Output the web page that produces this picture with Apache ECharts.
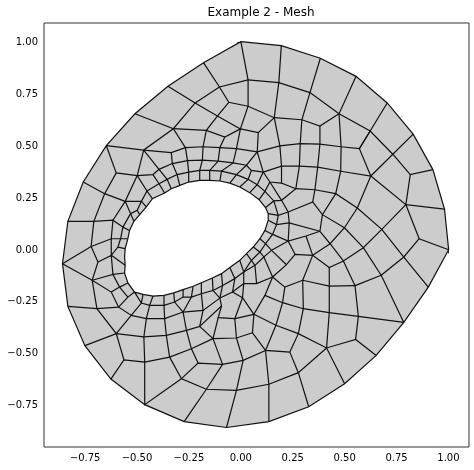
<!DOCTYPE html>
<html>
<head>
<meta charset="utf-8">
<title>Example 2 - Mesh</title>
<script src="https://cdn.jsdelivr.net/npm/echarts@6/dist/echarts.min.js"></script>
<style>
  html, body { margin: 0; padding: 0; background: #fff; }
  #main { width: 474px; height: 470px; }
</style>
</head>
<body>
<div id="main"></div>
<script>
var xTicks = [-0.75, -0.5, -0.25, 0, 0.25, 0.5, 0.75, 1];
var yTicks = [-0.75, -0.5, -0.25, 0, 0.25, 0.5, 0.75, 1];

var outerBoundary = [[0,1.003],[.195,.984],[.383,.923],[.555,.836],[.705,.708],[.830,.558],[.925,.387],[.981,.197],[1.001,.001],[.903,-.179],[.785,-.349],[.652,-.508],[.500,-.644],[.327,-.755],[.135,-.827],[-.069,-.855],[-.273,-.827],[-.463,-.745],[-.626,-.622],[-.751,-.461],[-.833,-.272],[-.859,-.066],[-.833,.138],[-.759,.327],[-.648,.502],[-.510,.656],[-.351,.788],[-.180,.902]];

var holeBoundary = [[-.251,.327],[-.198,.335],[-.150,.335],[-.101,.332],[-.053,.322],[-.005,.303],[.043,.276],[.088,.242],[.119,.204],[.132,.175],[.132,.143],[.116,.094],[.092,.054],[.060,.014],[.027,-.018],[-.005,-.050],[-.053,-.085],[-.093,-.114],[-.137,-.135],[-.190,-.158],[-.230,-.175],[-.278,-.191],[-.323,-.207],[-.370,-.219],[-.423,-.222],[-.471,-.214],[-.512,-.203],[-.544,-.159],[-.560,-.111],[-.557,-.074],[-.560,-.034],[-.557,.006],[-.544,.054],[-.536,.094],[-.515,.138],[-.487,.170],[-.455,.207],[-.426,.247],[-.367,.274],[-.335,.295],[-.294,.311]];

// element edges, read off the picture as chains of nodes
var meshLines = [
  [[0,1.003],[.035,.819],[.035,.692],[-.002,.583],[-.021,.488],[-.037,.419],[-.093,.380],[-.101,.332]],
  [[.195,.984],[.183,.806],[.161,.637],[.188,.501],[.196,.404],[.196,.322],[.265,.295],[.357,.290],[.457,.271],[.561,.202],[.679,.099],[.785,-.034],[.903,-.179]],
  [[.383,.923],[.333,.758],[.294,.627],[.286,.512],[.282,.404],[.265,.295],[.196,.239],[.159,.236],[.119,.204]],
  [[.555,.836],[.473,.656],[.483,.497],[.481,.379],[.457,.271],[.393,.170],[.381,.090],[.430,.030],[.499,.107],[.561,.202]],
  [[.705,.708],[.623,.573],[.571,.488],[.626,.356],[.561,.202]],
  [[.830,.558],[.732,.461],[.626,.356],[.481,.379],[.370,.399],[.282,.404],[.196,.404],[.108,.375],[.051,.383],[.027,.408],[-.037,.419],[-.109,.428],[-.185,.433],[-.257,.430],[-.330,.416],[-.394,.388],[-.423,.363],[-.499,.358],[-.600,.371],[-.648,.502]],
  [[.925,.387],[.816,.363],[.732,.461]],
  [[.035,.819],[.183,.806],[.333,.758],[.473,.656],[.623,.573],[.732,.461]],
  [[.816,.363],[.795,.218],[.626,.356]],
  [[.981,.197],[.795,.218],[.679,.099],[.590,.011],[.494,-.053],[.426,-.085],[.346,-.026],[.261,-.021],[.220,-.071],[.153,-.130],[.116,-.219],[.063,-.310],[.169,-.363],[.277,-.403],[.413,-.472],[.553,-.431],[.652,-.508]],
  [[.499,.107],[.590,.011]],
  [[.430,.030],[.494,-.053]],
  [[1.001,.001],[.859,.054],[.795,.218]],
  [[.859,.054],[.785,-.034],[.676,-.122],[.785,-.349]],
  [[.676,-.122],[.590,.011]],
  [[.676,-.122],[.550,-.172],[.494,-.053]],
  [[.550,-.172],[.566,-.320],[.553,-.431]],
  [[.785,-.349],[.566,-.320],[.426,-.302],[.301,-.283],[.201,-.254],[.116,-.219]],
  [[.426,-.085],[.426,-.174],[.426,-.302],[.413,-.472],[.500,-.644]],
  [[.550,-.172],[.426,-.174],[.298,-.146],[.212,-.179],[.153,-.130]],
  [[.298,-.146],[.346,-.026]],
  [[.298,-.146],[.301,-.283],[.277,-.403],[.236,-.492],[.277,-.591],[.327,-.755]],
  [[.212,-.179],[.201,-.254],[.169,-.363],[.119,-.484],[.236,-.492]],
  [[.413,-.472],[.277,-.591],[.135,-.647],[-.021,-.676],[-.166,-.671],[-.286,-.620],[-.463,-.745],[-.463,-.540],[-.563,-.529],[-.626,-.622]],
  [[.135,-.647],[.135,-.827]],
  [[.119,-.484],[.135,-.647]],
  [[.119,-.484],[.056,-.399],[.063,-.310]],
  [[.119,-.484],[.011,-.532],[-.088,-.551],[-.206,-.545],[-.286,-.620]],
  [[.011,-.532],[-.021,-.676],[-.069,-.855]],
  [[-.166,-.671],[-.273,-.827]],
  [[-.088,-.551],[-.166,-.671]],
  [[-.021,-.424],[.011,-.532]],
  [[.056,-.399],[-.021,-.424],[-.134,-.427],[-.198,-.368],[-.262,-.387],[-.359,-.411],[-.467,-.419],[-.600,-.403],[-.751,-.461]],
  [[-.134,-.427],[-.088,-.551]],
  [[-.134,-.427],[-.238,-.476],[-.343,-.516],[-.463,-.540]],
  [[-.206,-.545],[-.238,-.476],[-.262,-.387]],
  [[-.343,-.516],[-.286,-.620]],
  [[-.343,-.516],[-.359,-.411],[-.367,-.331],[-.370,-.267],[-.370,-.219]],
  [[-.463,-.540],[-.467,-.419],[-.455,-.331],[-.439,-.267],[-.423,-.222]],
  [[-.563,-.529],[-.600,-.403],[-.693,-.283],[-.716,-.146],[-.688,-.058],[-.721,.017],[-.708,.138],[-.656,.271],[-.600,.371]],
  [[-.693,-.283],[-.833,-.272]],
  [[-.693,-.283],[-.589,-.275],[-.528,-.315],[-.600,-.403]],
  [[-.589,-.275],[-.624,-.203],[-.716,-.146]],
  [[-.589,-.275],[-.544,-.227],[-.512,-.203]],
  [[-.624,-.203],[-.584,-.179],[-.616,-.118],[-.716,-.146]],
  [[-.584,-.179],[-.544,-.227]],
  [[-.584,-.179],[-.544,-.159]],
  [[-.616,-.118],[-.560,-.111]],
  [[-.616,-.118],[-.624,-.026],[-.688,-.058]],
  [[-.859,-.066],[-.721,.017],[-.624,.054],[-.579,.054],[-.544,.054]],
  [[-.859,-.066],[-.716,-.146]],
  [[-.833,.138],[-.708,.138],[-.616,.143],[-.624,.054],[-.624,-.026],[-.592,.014],[-.579,.054]],
  [[-.592,.014],[-.557,.006]],
  [[-.624,-.026],[-.557,-.074]],
  [[-.579,.054],[-.568,.110],[-.616,.143],[-.557,.234],[-.499,.358],[-.468,.481]],
  [[-.568,.110],[-.536,.094]],
  [[-.568,.110],[-.531,.175],[-.557,.234]],
  [[-.531,.175],[-.515,.138]],
  [[-.531,.175],[-.499,.191],[-.479,.234],[-.557,.234]],
  [[-.656,.271],[-.557,.234]],
  [[-.759,.327],[-.656,.271]],
  [[-.499,.191],[-.487,.170]],
  [[-.479,.234],[-.455,.207]],
  [[-.479,.234],[-.452,.284],[-.499,.358]],
  [[-.452,.284],[-.426,.247]],
  [[-.452,.284],[-.394,.319],[-.355,.340],[-.307,.363],[-.251,.375],[-.198,.383],[-.150,.383],[-.093,.380],[-.021,.363],[.035,.340],[.079,.314],[.116,.282],[.159,.236],[.180,.167]],
  [[-.423,.363],[-.394,.319],[-.367,.274]],
  [[-.394,.388],[-.355,.340],[-.335,.295]],
  [[-.330,.416],[-.307,.363],[-.294,.311]],
  [[-.257,.430],[-.251,.375],[-.251,.327]],
  [[-.185,.433],[-.198,.383],[-.198,.335]],
  [[-.109,.428],[-.150,.383],[-.150,.335]],
  [[-.468,.481],[-.394,.388]],
  [[-.468,.481],[-.335,.469],[-.267,.493],[-.182,.497],[-.101,.493],[-.021,.488],[.079,.472],[.188,.501],[.286,.512],[.381,.510],[.483,.497],[.571,.488],[.623,.573]],
  [[-.335,.469],[-.330,.416]],
  [[-.267,.493],[-.257,.430]],
  [[-.182,.497],[-.185,.433]],
  [[-.101,.493],[-.109,.428]],
  [[-.648,.502],[-.468,.481],[-.325,.584],[-.220,.708],[-.103,.785],[.035,.819]],
  [[-.510,.656],[-.325,.584],[-.267,.493]],
  [[-.351,.788],[-.220,.708],[-.113,.645],[-.002,.583],[-.077,.544],[-.166,.576],[-.325,.584]],
  [[-.180,.902],[-.103,.785],[-.058,.711],[.035,.692],[.161,.637],[.294,.627],[.381,.597],[.473,.656]],
  [[-.058,.711],[-.113,.645],[-.166,.576],[-.182,.497]],
  [[-.077,.544],[-.101,.493]],
  [[-.002,.583],[.084,.565],[.161,.637]],
  [[.084,.565],[.079,.472],[.108,.375],[.140,.327],[.196,.322]],
  [[.381,.597],[.381,.510],[.370,.399],[.357,.290],[.346,.231],[.228,.183],[.180,.167],[.132,.175]],
  [[.346,.231],[.393,.170],[.499,.107]],
  [[.079,.472],[.027,.408],[-.021,.363],[-.053,.322]],
  [[.051,.383],[.035,.340],[-.005,.303]],
  [[.108,.375],[.079,.314],[.043,.276]],
  [[.140,.327],[.116,.282],[.088,.242]],
  [[.140,.327],[.196,.239],[.228,.183],[.233,.130],[.228,.043],[.261,-.021]],
  [[.132,.143],[.172,.122],[.233,.130],[.381,.090]],
  [[.180,.167],[.172,.122],[.153,.075],[.228,.043],[.314,.067],[.381,.090]],
  [[.314,.067],[.346,-.026]],
  [[.430,.030],[.346,-.026]],
  [[.116,.094],[.153,.075],[.119,.030],[.092,.054]],
  [[.119,.030],[.092,-.010],[.060,.014]],
  [[.092,-.010],[.051,-.050],[.027,-.018]],
  [[.051,-.050],[.014,-.106],[-.005,-.050]],
  [[.228,.043],[.148,-.002],[.119,.030]],
  [[.148,-.002],[.220,-.071]],
  [[.148,-.002],[.111,-.034],[.092,-.010]],
  [[.111,-.034],[.068,-.074],[.051,-.050]],
  [[.068,-.074],[.014,-.106]],
  [[.111,-.034],[.153,-.130]],
  [[.068,-.074],[.076,-.162]],
  [[.153,-.130],[.076,-.162],[.014,-.162],[.014,-.106],[-.029,-.138],[-.053,-.085]],
  [[.014,-.162],[.008,-.230],[.063,-.310]],
  [[.008,-.230],[-.029,-.331],[.063,-.310]],
  [[-.029,-.331],[-.021,-.424]],
  [[.014,-.162],[-.040,-.203],[-.101,-.232],[-.134,-.195],[-.190,-.211],[-.238,-.227],[-.278,-.227],[-.319,-.251],[-.370,-.267],[-.439,-.267],[-.479,-.256],[-.512,-.203]],
  [[-.040,-.203],[.008,-.230]],
  [[-.029,-.138],[-.040,-.203]],
  [[-.029,-.138],[-.088,-.171],[-.134,-.195]],
  [[-.093,-.114],[-.088,-.171],[-.101,-.232]],
  [[-.137,-.135],[-.134,-.195]],
  [[-.190,-.158],[-.190,-.211],[-.182,-.291]],
  [[-.230,-.175],[-.238,-.227],[-.278,-.299]],
  [[-.278,-.191],[-.278,-.227]],
  [[-.323,-.207],[-.319,-.251],[-.278,-.299]],
  [[-.471,-.214],[-.479,-.256],[-.528,-.315]],
  [[-.101,-.232],[-.093,-.270],[-.198,-.368]],
  [[-.101,-.232],[-.182,-.291],[-.278,-.299],[-.367,-.331],[-.455,-.331],[-.528,-.315]],
  [[-.182,-.291],[-.198,-.368]],
  [[-.278,-.299],[-.262,-.387]],
  [[-.093,-.270],[-.109,-.326],[-.029,-.331]],
  [[-.109,-.326],[-.134,-.427]]
];

var fontName = '"DejaVu Sans"';
var edgeColor = '#111';

function tickText(v) {
  return v.toFixed(2).replace('-', '\u2212');
}

function toPixels(api, line) {
  return line.map(function (p) { return api.coord(p); });
}

var myChart = echarts.init(document.getElementById('main'), null, { renderer: 'canvas' });
myChart.setOption({
  animation: false,
  title: {
    text: 'Example 2 - Mesh',
    left: 256,
    top: 2,
    textAlign: 'center',
    textStyle: { fontFamily: fontName, fontSize: 12, fontWeight: 'normal', color: '#000' }
  },
  grid: { left: 44, right: 5, top: 23, bottom: 23, show: true, borderColor: '#333', borderWidth: 1, backgroundColor: '#fff' },
  xAxis: {
    type: 'value',
    min: -0.948,
    max: 1.099,
    splitLine: { show: false },
    axisLine: { show: false },
    axisTick: { show: true, length: 3.5, lineStyle: { color: '#333', width: 1 }, customValues: xTicks },
    axisLabel: { fontFamily: fontName, fontSize: 10, color: '#000', margin: 6, customValues: xTicks, formatter: tickText }
  },
  yAxis: {
    type: 'value',
    min: -0.949,
    max: 1.093,
    splitLine: { show: false },
    axisLine: { show: false },
    axisTick: { show: true, length: 3.5, lineStyle: { color: '#333', width: 1 }, customValues: yTicks },
    axisLabel: { fontFamily: fontName, fontSize: 10, color: '#000', margin: 6, customValues: yTicks, formatter: tickText }
  },
  series: [
    {
      type: 'custom',
      silent: true,
      clip: false,
      data: [[0, 0]],
      renderItem: function (params, api) {
        return {
          type: 'group',
          children: [
            { type: 'polygon', shape: { points: toPixels(api, outerBoundary) }, style: { fill: '#cccccc', stroke: edgeColor, lineWidth: 1.2 } },
            { type: 'polygon', shape: { points: toPixels(api, holeBoundary) }, style: { fill: '#ffffff', stroke: edgeColor, lineWidth: 1.2 } }
          ]
        };
      }
    },
    {
      type: 'custom',
      silent: true,
      clip: false,
      data: meshLines.map(function (line, i) { return [i]; }),
      renderItem: function (params, api) {
        return {
          type: 'polyline',
          shape: { points: toPixels(api, meshLines[params.dataIndex]) },
          style: { fill: null, stroke: edgeColor, lineWidth: 1.2 }
        };
      }
    }
  ]
});
</script>
</body>
</html>
